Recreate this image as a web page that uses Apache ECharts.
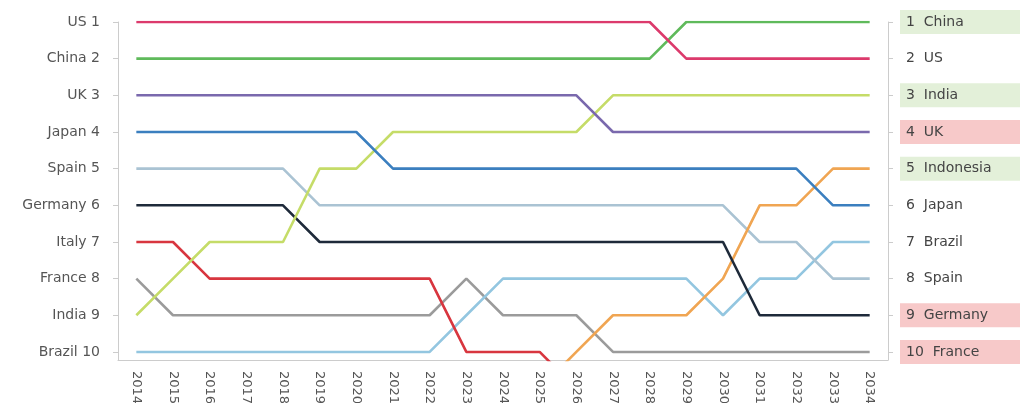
<!DOCTYPE html>
<html>
<head>
<meta charset="utf-8">
<script src="https://cdn.jsdelivr.net/npm/echarts@6/dist/echarts.min.js"></script>
<style>
  html, body { margin: 0; padding: 0; background: #fff; }
  #chart { width: 1020px; height: 403px; }
</style>
</head>
<body>
<div id="chart"></div>
<script>
// years on the x axis
const years = ["2014", "2015", "2016", "2017", "2018", "2019", "2020", "2021", "2022", "2023", "2024",
  "2025", "2026", "2027", "2028", "2029", "2030", "2031", "2032", "2033", "2034"];

// rank labels, left = 2014, right = 2034
const leftNames = ["US", "China", "UK", "Japan", "Spain", "Germany", "Italy", "France", "India", "Brazil"];
const rightNames = ["China", "US", "India", "UK", "Indonesia", "Japan", "Brazil", "Spain", "Germany", "France"];
const rightMark = ["g", "n", "g", "r", "g", "n", "n", "n", "r", "r"]; // up / same / down

// rank of each country per year (11 = fell off the chart)
const usRank = [1, 1, 1, 1, 1, 1, 1, 1, 1, 1, 1, 1, 1, 1, 1, 2, 2, 2, 2, 2, 2];
const chinaRank = [2, 2, 2, 2, 2, 2, 2, 2, 2, 2, 2, 2, 2, 2, 2, 1, 1, 1, 1, 1, 1];
const ukRank = [3, 3, 3, 3, 3, 3, 3, 3, 3, 3, 3, 3, 3, 4, 4, 4, 4, 4, 4, 4, 4];
const japanRank = [4, 4, 4, 4, 4, 4, 4, 5, 5, 5, 5, 5, 5, 5, 5, 5, 5, 5, 5, 6, 6];
const spainRank = [5, 5, 5, 5, 5, 6, 6, 6, 6, 6, 6, 6, 6, 6, 6, 6, 6, 7, 7, 8, 8];
const germanyRank = [6, 6, 6, 6, 6, 7, 7, 7, 7, 7, 7, 7, 7, 7, 7, 7, 7, 9, 9, 9, 9];
const italyRank = [7, 7, 8, 8, 8, 8, 8, 8, 8, 10, 10, 10, 11, null, null, null, null, null, null, null, null];
const franceRank = [8, 9, 9, 9, 9, 9, 9, 9, 9, 8, 9, 9, 9, 10, 10, 10, 10, 10, 10, 10, 10];
const indiaRank = [9, 8, 7, 7, 7, 5, 5, 4, 4, 4, 4, 4, 4, 3, 3, 3, 3, 3, 3, 3, 3];
const brazilRank = [10, 10, 10, 10, 10, 10, 10, 10, 10, 9, 8, 8, 8, 8, 8, 8, 9, 8, 8, 7, 7];
const indonesiaRank = [null, null, null, null, null, null, null, null, null, null, null,
  11, 10, 9, 9, 9, 8, 6, 6, 5, 5];

var myChart = echarts.init(document.getElementById("chart"), null, { renderer: "canvas" });

const ticks = [1, 2, 3, 4, 5, 6, 7, 8, 9, 10];

function mkLine(name, data, color) {
  return {
    name: name,
    type: "line",
    data: data,
    symbol: "none",
    lineStyle: { color: color, width: 2.6 },
    itemStyle: { color: color },
  };
}

// 右侧标签样式
const boxBase = { color: "#444", fontSize: 14, lineHeight: 14, width: 118, padding: [5, 2, 5, 6] };

let option = {
  backgroundColor: "#fff",
  animation: false,
  textStyle: { fontFamily: "DejaVu Sans, sans-serif" },
  grid: { left: 118, right: 132, top: 22, bottom: 43, outerBoundsMode: "none", containLabel: false },
  xAxis: {
    type: "category",
    data: years,
    boundaryGap: true,
    axisLine: { lineStyle: { color: "#cccccc" } },
    axisTick: { interval: 0, length: 4, lineStyle: { color: "#cccccc" } },
    axisLabel: { interval: 0, rotate: -90, margin: 11, fontSize: 13, color: "#555" },
  },
  yAxis: [
    {
      type: "value",
      position: "left",
      inverse: true,
      min: 1,
      max: 10.22,
      splitLine: { show: false },
      axisLine: { show: true, lineStyle: { color: "#cccccc" } },
      axisTick: { show: true, length: 5, customValues: ticks, lineStyle: { color: "#cccccc" } },
      axisLabel: {
        customValues: ticks,
        margin: 18,
        fontSize: 14,
        color: "#555",
        formatter: (v) => leftNames[v - 1] + " " + v,
      },
    },
    {
      type: "value",
      position: "right",
      inverse: true,
      min: 1,
      max: 10.22,
      splitLine: { show: false },
      axisLine: { show: true, lineStyle: { color: "#cccccc" } },
      axisTick: { show: true, length: 5, customValues: ticks, lineStyle: { color: "#cccccc" } },
      axisLabel: {
        customValues: ticks,
        margin: 12,
        align: "left",
        formatter: (v) => "{" + rightMark[v - 1] + "|" + v + "  " + rightNames[v - 1] + "}",
        rich: {
          g: Object.assign({ backgroundColor: "#e3f0d9" }, boxBase),
          r: Object.assign({ backgroundColor: "#f7c9c9" }, boxBase),
          n: Object.assign({}, boxBase),
        },
      },
    },
  ],
  series: [
    mkLine("France", franceRank, "#9b9b9b"),
    mkLine("Brazil", brazilRank, "#93c6e0"),
    mkLine("Spain", spainRank, "#aac3d3"),
    mkLine("Indonesia", indonesiaRank, "#f0a552"),
    mkLine("Italy", italyRank, "#d8363f"),
    mkLine("Germany", germanyRank, "#1e2a3a"),
    mkLine("India", indiaRank, "#c5dc68"),
    mkLine("Japan", japanRank, "#3b7fbf"),
    mkLine("UK", ukRank, "#7a69ad"),
    mkLine("China", chinaRank, "#5fba5b"),
    mkLine("US", usRank, "#dc3a6c"),
  ],
};
myChart.setOption(option);
</script>
</body>
</html>
